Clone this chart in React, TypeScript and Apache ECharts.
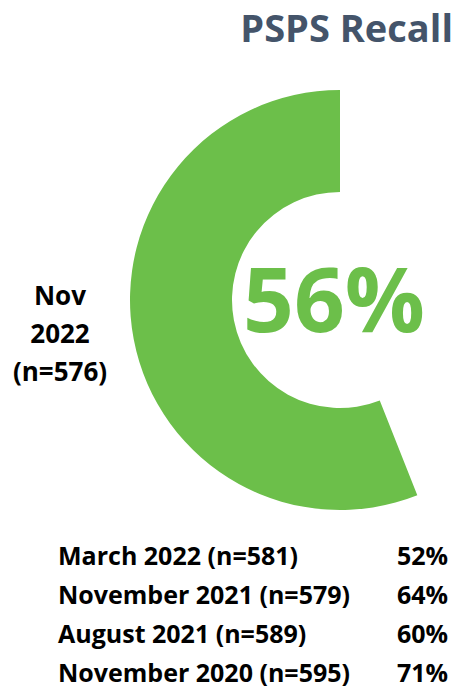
import React, { useEffect, useRef } from "react";
import * as echarts from "echarts";

const TITLE = "PSPS Recall";
const CURRENT_LABEL = ["Nov", "2022", "(n=576)"];
const CURRENT_VALUE = 56;
const HISTORY_LABELS = [
  "March 2022 (n=581)",
  "November 2021 (n=579)",
  "August 2021 (n=589)",
  "November 2020 (n=595)",
];
const HISTORY_VALUES = [52, 64, 60, 71];

const GREEN = "#6cbf4a";
const FONT = "'Open Sans', Lato, sans-serif";

export default function App() {
  const ref = useRef<HTMLDivElement>(null);
  useEffect(() => {
    if (!ref.current) return;
    const chart = echarts.init(ref.current, null, { renderer: "svg" });
    const graphics: any[] = [];
    graphics.push({
      type: "text",
      x: 453,
      y: 27,
      style: {
        text: TITLE,
        font: `bold 38px ${FONT}`,
        lineHeight: 38,
        fill: "#44546a",
        align: "right",
        verticalAlign: "middle",
      },
    });
    graphics.push({
      type: "text",
      x: 334,
      y: 297,
      style: {
        text: `${CURRENT_VALUE}%`,
        font: `bold 89px ${FONT}`,
        fill: GREEN,
        align: "center",
        verticalAlign: "middle",
      },
    });
    CURRENT_LABEL.forEach((t, i) => {
      graphics.push({
        type: "text",
        x: 60,
        y: 295 + i * 38,
        style: {
          text: t,
          font: `bold 26px ${FONT}`,
          fill: "#000",
          align: "center",
          verticalAlign: "middle",
        },
      });
    });
    HISTORY_LABELS.forEach((t, i) => {
      graphics.push({
        type: "text",
        x: 58,
        y: 555 + i * 39,
        style: {
          text: t,
          font: `bold 25px ${FONT}`,
          fill: "#000",
          align: "left",
          verticalAlign: "middle",
        },
      });
      graphics.push({
        type: "text",
        x: 448,
        y: 555 + i * 39,
        style: {
          text: `${HISTORY_VALUES[i]}%`,
          font: `bold 25px ${FONT}`,
          fill: "#000",
          align: "right",
          verticalAlign: "middle",
        },
      });
    });
    chart.setOption({
      animation: false,
      graphic: graphics,
      series: [
        {
          type: "pie",
          center: [340, 300],
          radius: [108, 210],
          startAngle: 90,
          clockwise: false,
          silent: true,
          label: { show: false },
          labelLine: { show: false },
          emphasis: { disabled: true },
          data: [
            { value: CURRENT_VALUE, itemStyle: { color: GREEN } },
            { value: 100 - CURRENT_VALUE, itemStyle: { color: "transparent" } },
          ],
        },
      ],
    });
    return () => chart.dispose();
  }, []);
  return (
    <div
      ref={ref}
      style={{ position: "fixed", left: 0, top: 0, width: 462, height: 699, background: "#fff" }}
    />
  );
}
